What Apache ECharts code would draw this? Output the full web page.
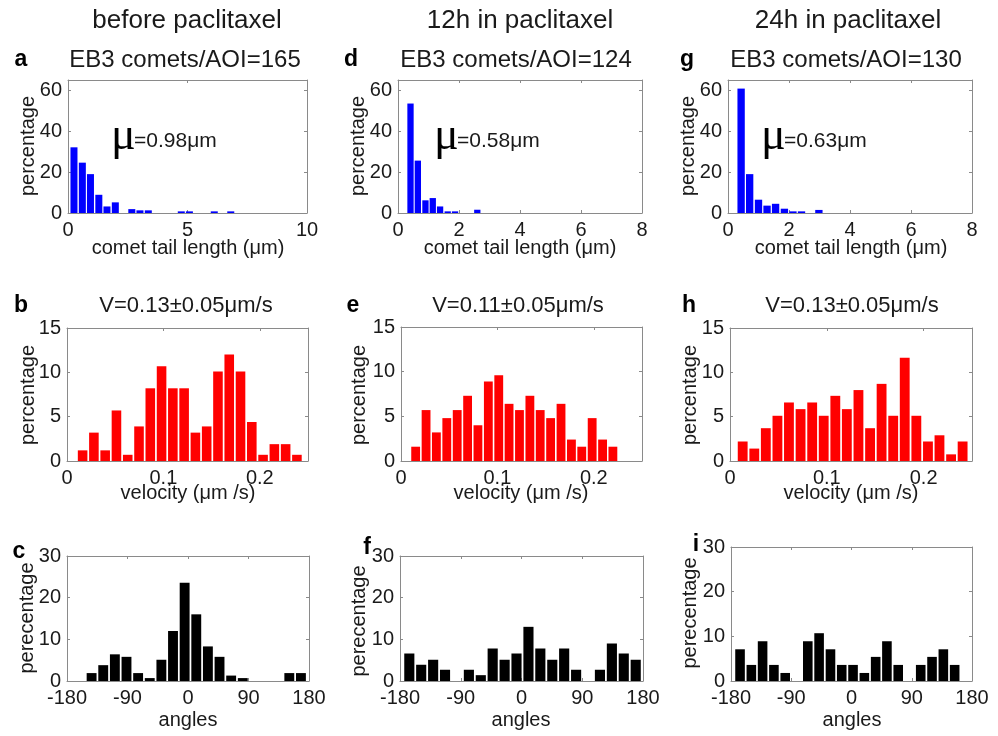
<!DOCTYPE html>
<html>
<head>
<meta charset="utf-8">
<script src="https://cdn.jsdelivr.net/npm/echarts@6/dist/echarts.min.js"></script>
<style>
  html, body { margin: 0; padding: 0; background: #fff; }
  #chart { width: 998px; height: 736px; }
</style>
</head>
<body>
<div id="chart"></div>
<script>
// comet tail length histograms (µm), bin centers + percentages
const aCenters = [0.25, 0.6, 0.94, 1.29, 1.63, 1.98, 2.67, 3.01, 3.36, 4.74, 5.08, 6.12, 6.81]
const aValues = [32.1, 24.6, 19.0, 8.9, 3.2, 5.2, 1.9, 1.3, 1.3, 0.8, 0.8, 0.8, 0.8]
const dCenters = [0.41, 0.65, 0.9, 1.14, 1.38, 1.63, 1.87, 2.6]
const dValues = [53.5, 25.6, 6.2, 7.3, 3.2, 0.8, 0.8, 1.6]
const gCenters = [0.43, 0.71, 1.0, 1.28, 1.56, 1.85, 2.13, 2.41, 2.98]
const gValues = [60.8, 19.0, 6.5, 3.6, 4.5, 2.1, 0.8, 0.8, 1.5]

// velocity histograms (µm/s)
const bCenters = [0.0162, 0.0279, 0.0396, 0.0513, 0.063, 0.0747, 0.0864, 0.0981, 0.1098, 0.1215,
  0.1332, 0.1449, 0.1566, 0.1683, 0.18, 0.1917, 0.2034, 0.2151, 0.2268, 0.2385]
const bValues = [1.2, 3.2, 1.2, 5.7, 0.7, 3.9, 8.2, 10.7, 8.2, 8.2, 3.2, 3.9, 10.1, 12.0, 10.1, 4.4, 0.7, 1.9, 1.9, 0.7]
const eCenters = [0.0152, 0.026, 0.0367, 0.0475, 0.0583, 0.0691, 0.0798, 0.0906, 0.1014, 0.1121,
  0.1229, 0.1337, 0.1444, 0.1552, 0.166, 0.1768, 0.1875, 0.1983, 0.2091, 0.2198]
const eValues = [1.6, 5.7, 3.2, 4.8, 5.7, 7.3, 4.0, 8.9, 9.6, 6.4, 5.7, 7.3, 5.7, 4.8, 6.4, 2.4, 1.6, 4.8, 2.4, 1.6]
const hCenters = [0.0131, 0.0251, 0.037, 0.049, 0.0609, 0.0729, 0.0849, 0.0968, 0.1088, 0.1207,
  0.1327, 0.1447, 0.1566, 0.1686, 0.1805, 0.1925, 0.2045, 0.2164, 0.2284, 0.2403]
const hValues = [2.2, 1.4, 3.7, 5.1, 6.6, 5.85, 6.6, 5.1, 7.35, 5.85, 8.0, 3.7, 8.7, 5.1, 11.65, 5.1, 2.2, 2.9, 0.75, 2.2]

// angle histograms (degrees)
const cCenters = [-143.4, -126.1, -108.8, -91.5, -74.2, -56.9, -39.6, -22.3, -5.0, 12.3, 29.6, 46.9, 64.2, 81.5, 150.7, 168.0]
const cValues = [1.9, 3.8, 6.4, 5.8, 1.9, 0.7, 5.1, 12.0, 23.6, 16.0, 8.3, 5.8, 1.3, 0.7, 1.9, 1.9]
const fCenters = [-166.2, -148.6, -130.9, -113.3, -77.95, -60.3, -42.7, -25.0, -7.4, 10.3, 27.9, 45.6, 63.2, 80.9,
  116.2, 133.9, 151.5, 169.2]
const fValues = [6.6, 3.9, 5.1, 2.7, 2.7, 1.4, 7.8, 5.1, 6.6, 13.0, 7.8, 5.1, 7.8, 2.7, 2.7, 9.0, 6.6, 5.1]
const iCenters = [-166.5, -149.6, -132.8, -115.9, -99.0, -65.3, -48.4, -31.4, -14.6, 2.3, 19.2, 36.1, 52.9, 69.8,
  103.4, 120.3, 137.2, 154.1]
const iValues = [7.1, 3.6, 8.9, 3.6, 1.8, 8.9, 10.7, 7.1, 3.6, 3.6, 1.8, 5.4, 8.9, 3.6, 3.6, 5.4, 7.1, 3.6]

const columnTitles = ['before paclitaxel', '12h in paclitaxel', '24h in paclitaxel']
const cometTitles = ['EB3 comets/AOI=165', 'EB3 comets/AOI=124', 'EB3 comets/AOI=130']
const meanLengths = ['=0.98μm', '=0.58μm', '=0.63μm']
const velocityTitles = ['V=0.13±0.05μm/s', 'V=0.11±0.05μm/s', 'V=0.13±0.05μm/s']

const FONT = 'Liberation Sans, Arial, sans-serif'
const BOX = '#8a8a8a'
const TXT = '#1a1a1a'

const panels = [
  { left: 68, top: 80, width: 239, height: 133, xMin: 0, xMax: 10, xInt: 5, yMax: 65, yInt: 20, centers: aCenters, values: aValues, bin: 0.345, color: '#0000ff' },
  { left: 398, top: 80, width: 244, height: 133, xMin: 0, xMax: 8, xInt: 2, yMax: 65, yInt: 20, centers: dCenters, values: dValues, bin: 0.243, color: '#0000ff' },
  { left: 728, top: 80, width: 244, height: 133, xMin: 0, xMax: 8, xInt: 2, yMax: 65, yInt: 20, centers: gCenters, values: gValues, bin: 0.283, color: '#0000ff' },
  { left: 67, top: 328, width: 241, height: 133, xMin: 0, xMax: 0.25, xInt: 0.1, yMax: 15, yInt: 5, centers: bCenters, values: bValues, bin: 0.0117, color: '#ff0000' },
  { left: 401, top: 327, width: 241, height: 134, xMin: 0, xMax: 0.25, xInt: 0.1, yMax: 15, yInt: 5, centers: eCenters, values: eValues, bin: 0.01077, color: '#ff0000' },
  { left: 730, top: 328, width: 242, height: 133, xMin: 0, xMax: 0.25, xInt: 0.1, yMax: 15, yInt: 5, centers: hCenters, values: hValues, bin: 0.01196, color: '#ff0000' },
  { left: 67, top: 556, width: 242, height: 125, xMin: -180, xMax: 180, xInt: 90, yMax: 30, yInt: 10, centers: cCenters, values: cValues, bin: 17.3, color: '#000000' },
  { left: 400, top: 556, width: 243, height: 125, xMin: -180, xMax: 180, xInt: 90, yMax: 30, yInt: 10, centers: fCenters, values: fValues, bin: 17.65, color: '#000000' },
  { left: 731, top: 547, width: 241, height: 134, xMin: -180, xMax: 180, xInt: 90, yMax: 30, yInt: 10, centers: iCenters, values: iValues, bin: 16.87, color: '#000000' }
]

const grid = []
const xAxis = []
const yAxis = []
const series = []

function frameAxis(base, extra) {
  return Object.assign({
    axisLine: { show: true, onZero: false, lineStyle: { color: BOX, width: 1 } },
    axisTick: { show: true, inside: true, length: 3, lineStyle: { color: BOX } },
    splitLine: { show: false }
  }, base, extra)
}

panels.forEach(function(p, k) {
  grid.push({ left: p.left, top: p.top, width: p.width, height: p.height, show: false })
  const xBase = { type: 'value', gridIndex: k, min: p.xMin, max: p.xMax, interval: p.xInt }
  const yBase = { type: 'value', gridIndex: k, min: 0, max: p.yMax, interval: p.yInt }
  xAxis.push(frameAxis(xBase, {
    position: 'bottom',
    axisLabel: { show: true, showMaxLabel: p.xMax % p.xInt === 0, margin: 7, fontSize: 20, fontFamily: FONT, color: TXT }
  }))
  xAxis.push(frameAxis(xBase, { position: 'top', axisLabel: { show: false } }))
  yAxis.push(frameAxis(yBase, {
    position: 'left',
    axisLabel: { show: true, showMaxLabel: p.yMax % p.yInt === 0, margin: 6, fontSize: 20, fontFamily: FONT, color: TXT }
  }))
  yAxis.push(frameAxis(yBase, { position: 'right', axisLabel: { show: false } }))

  const w = p.bin * 0.85
  series.push({
    type: 'custom',
    xAxisIndex: 2 * k,
    yAxisIndex: 2 * k,
    silent: true,
    data: p.centers.map(function(c, j) { return [c, p.values[j]] }),
    renderItem: function(params, api) {
      const c = api.value(0)
      const v = api.value(1)
      const p0 = api.coord([c - w / 2, v])
      const p1 = api.coord([c + w / 2, 0])
      return {
        type: 'rect',
        shape: { x: p0[0], y: p0[1], width: p1[0] - p0[0], height: p1[1] - p0[1] },
        style: { fill: p.color }
      }
    }
  })
})

function txt(s, x, y, size, extra) {
  return {
    type: 'text',
    x: x,
    y: y,
    rotation: (extra && extra.rotation) || 0,
    style: Object.assign({
      text: s,
      fontSize: size,
      fontFamily: FONT,
      fill: TXT,
      align: 'center',
      verticalAlign: 'middle'
    }, extra && extra.style)
  }
}

const graphics = []
const colX = [187, 520, 848]
columnTitles.forEach(function(s, k) { graphics.push(txt(s, colX[k], 21, 26)) })
const subX = [185, 516, 846]
cometTitles.forEach(function(s, k) { graphics.push(txt(s, subX[k], 60, 24)) })
const velX = [186, 518, 852]
velocityTitles.forEach(function(s, k) { graphics.push(txt(s, velX[k], 306, 22)) })

// panel letters
const letters = [['a', 21, 60], ['d', 351, 60], ['g', 687, 60], ['b', 21, 306], ['e', 353, 306], ['h', 689, 306],
  ['c', 19, 552], ['f', 367, 548], ['i', 696, 545]]
letters.forEach(function(l) {
  graphics.push(txt(l[0], l[1], l[2], 23, { style: { fontWeight: 'bold', fill: '#000' } }))
})

// y axis names
const yNames = [['percentage', 28, 146], ['percentage', 358, 146], ['percentage', 688, 146],
  ['percentage', 28, 395], ['percentage', 359, 395], ['percentage', 690, 395],
  ['perecentage', 27, 618], ['perecentage', 359, 621], ['perecentage', 690, 613]]
yNames.forEach(function(n) { graphics.push(txt(n[0], n[1], n[2], 20, { rotation: Math.PI / 2 })) })

// x axis names
const xNames = [['comet tail length (μm)', 188, 248], ['comet tail length (μm)', 520, 248], ['comet tail length (μm)', 851, 248],
  ['velocity (μm /s)', 188, 493], ['velocity (μm /s)', 521, 493], ['velocity (μm /s)', 851, 493],
  ['angles', 188, 720], ['angles', 521, 720], ['angles', 852, 720]]
xNames.forEach(function(n) { graphics.push(txt(n[0], n[1], n[2], 20)) })

// mean tail length annotations
const muX = [111, 434, 761]
meanLengths.forEach(function(s, k) {
  graphics.push(txt('μ', muX[k], 137, 46, { style: { align: 'left', fontFamily: 'Liberation Serif, DejaVu Serif, serif', fill: '#000' } }))
  graphics.push(txt(s, muX[k] + 23, 141, 21, { style: { align: 'left' } }))
})

const chart = echarts.init(document.getElementById('chart'))
chart.setOption({
  animation: false,
  backgroundColor: '#fff',
  grid: grid,
  xAxis: xAxis,
  yAxis: yAxis,
  series: series,
  graphic: graphics
})
</script>
</body>
</html>
